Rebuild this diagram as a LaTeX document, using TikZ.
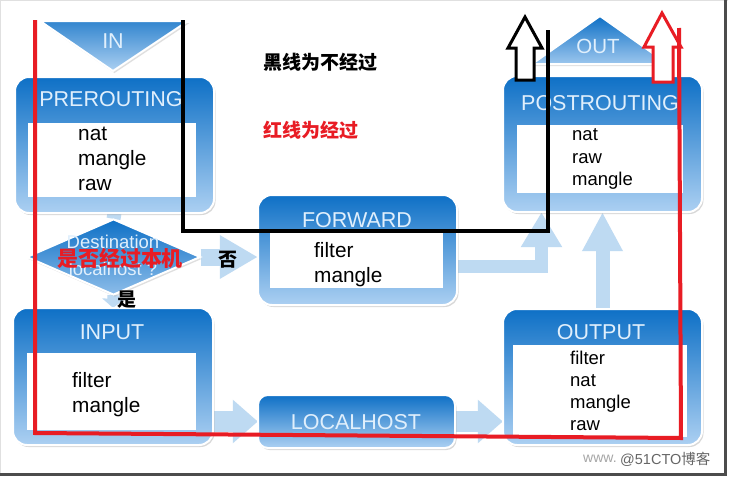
\documentclass[tikz,border=0pt]{standalone}
\usepackage{fontspec}
\setmainfont{Liberation Sans}
\newfontfamily\cjk{Noto Sans CJK SC}
\usetikzlibrary{shapes.geometric,shadows,arrows.meta}
\definecolor{boxtop}{RGB}{14,112,198}
\definecolor{boxbot}{RGB}{172,208,242}
\definecolor{hdrc}{RGB}{224,239,252}
\definecolor{arrowc}{RGB}{190,218,242}
\definecolor{redl}{RGB}{232,28,36}
\begin{document}
\begin{tikzpicture}[x=1pt,y=-1pt,
  chainbox/.style={rounded corners=14pt, draw=white, line width=2pt, top color=boxtop, bottom color=boxbot,
    drop shadow={opacity=0.3,shadow xshift=1.5pt,shadow yshift=-2pt}, inner sep=0pt},
  innerbox/.style={fill=white, draw=none, inner sep=0pt},
  hdr/.style={text=hdrc, inner sep=0pt, font=\fontsize{21.5}{24}\selectfont},
  bigline/.style={anchor=base west, inner sep=0pt, font=\fontsize{20.8}{24}\selectfont},
  smallline/.style={anchor=base west, inner sep=0pt, font=\fontsize{18.5}{22}\selectfont},
  fat/.style={draw=arrowc, color=arrowc},
  cjklabel/.style={inner sep=0pt, font=\cjk\bfseries\fontsize{19}{22}\selectfont},
  penline/.style={line width=4pt, line join=miter},
  hollow/.style={line width=3pt, line join=miter}
]
\useasboundingbox (0,0) rectangle (729,477);
\fill[white] (0,0) rectangle (729,477);
\draw[black!12, line width=1pt] (0.5,476) -- (0.5,0.5) -- (728,0.5);

% ---------- node positions ----------
\path node[minimum width=199pt, minimum height=136pt] (pre) at (114.5,145) {}
      node[minimum width=199pt, minimum height=136pt] (post) at (602.5,144) {}
      node[minimum width=199pt, minimum height=110pt] (fwd) at (357.5,250) {}
      node[minimum width=200pt, minimum height=137pt] (inp) at (113,376.5) {}
      node[minimum width=199pt, minimum height=136pt] (outp) at (602.5,377) {}
      node[minimum width=197pt, minimum height=53pt] (loc) at (356.5,421.5) {}
      node[diamond, minimum width=174pt, minimum height=76pt, inner sep=0pt] (dest) at (113.5,257) {};

% ---------- fat light-blue arrows ----------
\draw[fat, line width=14pt] (pre.south) -- (dest.north);
\draw[fat, line width=12pt, -{Triangle[length=9pt,width=22pt]}] (dest.south) -- (inp.north);
\draw[fat, line width=17pt, -{Triangle[length=38pt,width=41pt]}] (dest.east) -- (dest.east -| fwd.west);
\draw[fat, line width=21pt, -{Triangle[length=25pt,width=42pt]}] (loc.west -| inp.east) -- (loc.west);
\draw[fat, line width=21pt, -{Triangle[length=25pt,width=42pt]}] (loc.east) -- (loc.east -| outp.west);
\draw[fat, line width=13pt, -{Triangle[length=35pt,width=39pt]}] ([yshift=-16.5pt]fwd.east) -| ([xshift=-61pt]post.south);
\draw[fat, line width=14pt, -{Triangle[length=39pt,width=38pt]}] (outp.north) -- (post.south);

% ---------- boxes ----------
\node[chainbox, minimum width=199pt, minimum height=136pt] at (pre) {};
\node[chainbox, minimum width=199pt, minimum height=136pt] at (post) {};
\node[chainbox, minimum width=199pt, minimum height=110pt] at (fwd) {};
\node[chainbox, minimum width=200pt, minimum height=137pt] at (inp) {};
\node[chainbox, minimum width=199pt, minimum height=136pt] at (outp) {};
\node[chainbox, minimum width=197pt, minimum height=53pt, rounded corners=10pt] at (loc) {};
\node[diamond, minimum width=174pt, minimum height=76pt, inner sep=0pt, draw=white, line width=2pt,
      top color=boxtop, bottom color=boxbot!80!boxtop,
      drop shadow={opacity=0.25,shadow xshift=1.5pt,shadow yshift=-2pt}] at (dest) {};

% IN / OUT triangles
\shadedraw[draw=white, line width=2pt, top color=boxtop!85, bottom color=boxbot, line join=miter,
  drop shadow={opacity=0.25,shadow xshift=1.5pt,shadow yshift=-2pt}]
  (40,21) -- (188,21) -- (113,71) -- cycle;
\shadedraw[draw=white, line width=2pt, top color=boxtop, bottom color=boxbot!90!boxtop, line join=miter,
  drop shadow={opacity=0.25,shadow xshift=1.5pt,shadow yshift=-2pt}]
  (600,16) -- (668,64) -- (532,64) -- cycle;
\node[hdr] (inT) at (113,41) {IN};
\node[hdr, font=\fontsize{20.5}{24}\selectfont] (outT) at (598,46) {OUT};

% inner white areas
\node[innerbox, minimum width=168pt, minimum height=74pt] (preI) at (112,160) {};
\node[innerbox, minimum width=166pt, minimum height=68pt] (postI) at (600,159) {};
\node[innerbox, minimum width=173pt, minimum height=55pt] (fwdI) at (356.5,260.5) {};
\node[innerbox, minimum width=169pt, minimum height=77pt] (inpI) at (111.5,391.5) {};
\node[innerbox, minimum width=174pt, minimum height=92pt] (outpI) at (600,391) {};

% headers
\node[hdr] (preH) at (111,99) {PREROUTING};
\node[hdr] (postH) at (600,103) {POSTROUTING};
\node[hdr] (fwdH) at (357,220) {FORWARD};
\node[hdr] (inpH) at (112,332) {INPUT};
\node[hdr] (outpH) at (601,332) {OUTPUT};
\node[hdr] (locH) at (356,422) {LOCALHOST};
\node[hdr, font=\fontsize{18.5}{22}\selectfont] (destA) at (113,242) {Destination};
\node[hdr, font=\fontsize{18.5}{22}\selectfont] (destB) at (113,269) {localhost ?};

% table names
\node[bigline] (p1) at (78,140) {nat};
\node[bigline] (p2) at (78,165) {mangle};
\node[bigline] (p3) at (78,190) {raw};
\node[smallline] (q1) at (572,140) {nat};
\node[smallline] (q2) at (572,163) {raw};
\node[smallline] (q3) at (572,185) {mangle};
\node[bigline] (f1) at (314,257) {filter};
\node[bigline] (f2) at (314,282) {mangle};
\node[bigline] (i1) at (72,387) {filter};
\node[bigline] (i2) at (72,412) {mangle};
\node[smallline] (o1) at (570,364) {filter};
\node[smallline] (o2) at (570,386) {nat};
\node[smallline] (o3) at (570,408) {mangle};
\node[smallline] (o4) at (570,430) {raw};

% ---------- hand-drawn black path (not through this host) ----------
\coordinate (k1) at (183,20);
\coordinate (k2) at (183,231);
\coordinate (k3) at (548,231);
\coordinate (k4) at (548,30);
\draw[penline, black] (k1) -- (k2) -- (k3) -- (k4);
\filldraw[hollow, draw=black, fill=white] (516,80) -- (516,48) -- (508,48) -- (525,17) -- (542,48) -- (534,48) -- (534,80) -- cycle;

% ---------- hand-drawn red path (through this host) ----------
\filldraw[hollow, draw=redl, fill=white] (653,82) -- (653,47) -- (644,47) -- (662,13) -- (681,47) -- (673,47) -- (673,82) -- cycle;
\coordinate (r1) at (35,20);
\coordinate (r2) at (35,433);
\coordinate (r3) at (681,438);
\coordinate (r4) at (679,28);
\draw[penline, redl] (r1) -- (r2) -- (r3) -- (r4);

% ---------- Chinese labels ----------
\node[cjklabel, black] (lblA) at (320,62) {黑线为不经过};
\node[cjklabel, redl, anchor=west] (lblB) at (263,130) {红线为经过};
\node[cjklabel, redl, font=\cjk\bfseries\fontsize{21}{24}\selectfont] (ask) at (120,258) {是否经过本机};
\node[cjklabel, black] (no) at (228,260) {否};
\node[cjklabel, black] (yes) at (127,300) {是};

% ---------- watermark and frame ----------
\node[anchor=west, inner sep=0pt, text=black!35, font=\fontsize{14}{16}\selectfont] (wm1) at (583,459) {www.};
\node[anchor=west, inner sep=0pt, text=black!60, font=\fontsize{14.5}{16}\selectfont] (wm2) at (620,459) {@51CTO{\cjk 博客}};
\draw[black!70, line width=3pt] (725,0) -- (725,474) -- (0,474);
\end{tikzpicture}
\end{document}
